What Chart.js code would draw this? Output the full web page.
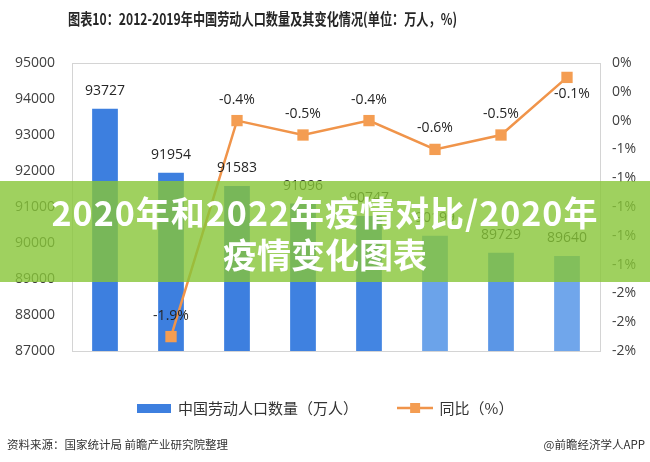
<!DOCTYPE html>
<html><head><meta charset="utf-8">
<script src="https://cdn.jsdelivr.net/npm/chart.js@4/dist/chart.umd.min.js"></script>
<style>
body{margin:0;width:650px;height:462px;position:relative;background:#fff;overflow:hidden;font-family:"Noto Sans CJK SC",sans-serif}
#c{position:absolute;left:0;top:0}
#title{position:absolute;left:68px;top:6px;font-weight:bold;font-size:16px;line-height:24px;color:#262626;white-space:nowrap;transform:scaleX(0.76);transform-origin:left top}
#banner{position:absolute;left:0;top:181px;width:650px;height:101px;background:rgba(135,198,55,0.8);color:#fff;font-weight:bold;font-size:34px;line-height:42px;text-align:center;padding-top:10px;box-sizing:border-box;white-space:nowrap}
#banner .l1{letter-spacing:1px}
#src{position:absolute;left:7px;top:435px;font-size:11.5px;line-height:18px;color:#333}
#app{position:absolute;right:5px;top:435px;font-size:11.5px;line-height:18px;color:#333}
</style></head>
<body>
<canvas id="c" width="650" height="462"></canvas>
<div id="title">图表10：2012-2019年中国劳动人口数量及其变化情况(单位：万人，%)</div>
<div id="banner"><span class="l1">2020年和2022年疫情对比/2020年</span><br>疫情变化图表</div>
<div id="src">资料来源：国家统计局 前瞻产业研究院整理</div>
<div id="app">@前瞻经济学人APP</div>
<script>
const categories = ['2012','2013','2014','2015','2016','2017','2018','2019'];
const laborForce = [93727, 91954, 91583, 91096, 90747, 90199, 89729, 89640];
const yoyChange = [null, -1.9, -0.4, -0.5, -0.4, -0.6, -0.5, -0.1];
const seriesNames = ['中国劳动人口数量（万人）', '同比（%）'];
const leftAxis = {min: 87000, max: 95000, step: 1000};
const rightAxis = {min: -2, max: 0, step: 0.2};

const barColors = ['#3d7fdf','#3d7fdf','#3d7fdf','#3f81e0','#4385e2','#6ba3ea','#5b96e6','#70a6eb'];
const lineColor = '#f0944a';
const pointColor = '#f49d52';

function makeBarIcon(){
  const cv = document.createElement('canvas'); cv.width = 34; cv.height = 9;
  const g = cv.getContext('2d'); g.fillStyle = '#3d7fdf'; g.fillRect(0,0,34,9); return cv;
}
function makeLineIcon(){
  const cv = document.createElement('canvas'); cv.width = 36; cv.height = 12;
  const g = cv.getContext('2d');
  g.strokeStyle = lineColor; g.lineWidth = 2.5; g.beginPath(); g.moveTo(0,6); g.lineTo(36,6); g.stroke();
  g.fillStyle = pointColor; g.fillRect(13,1,10,10); return cv;
}
const legendIcons = [makeBarIcon(), makeLineIcon()];

const boxPlugin = {
  id: 'box',
  beforeDatasetsDraw(chart){
    const {ctx, chartArea:a} = chart;
    ctx.save(); ctx.strokeStyle = '#d4d4d4'; ctx.lineWidth = 1;
    ctx.strokeRect(Math.round(a.left)+0.5, Math.round(a.top)+0.5, Math.round(a.right-a.left), Math.round(a.bottom-a.top));
    ctx.restore();
  }
};
const labelPlugin = {
  id: 'vlabels',
  afterDatasetsDraw(chart){
    const {ctx, chartArea:a} = chart;
    ctx.save();
    ctx.font = '14px "Open Sans", "Liberation Sans", sans-serif';
    ctx.fillStyle = '#262626'; ctx.textAlign = 'center'; ctx.textBaseline = 'middle';
    chart.getDatasetMeta(0).data.forEach((el,i)=>{
      ctx.fillText(String(laborForce[i]), el.x, el.y - 18);
    });
    chart.getDatasetMeta(1).data.forEach((el,i)=>{
      const v = yoyChange[i]; if (v === null) return;
      let y = el.y - 21, x = el.x;
      if (y < a.top + 8) { y = el.y + 17; x = el.x + 5; }
      ctx.fillText(v.toFixed(1) + '%', x, y);
    });
    ctx.restore();
  }
};

new Chart(document.getElementById('c'), {
  type: 'bar',
  data: {
    labels: categories,
    datasets: [
      {type:'bar', label: seriesNames[0], data: laborForce, backgroundColor: barColors, yAxisID:'y', order:2,
       categoryPercentage:1, barPercentage:0.39},
      {type:'line', label: seriesNames[1], data: yoyChange, yAxisID:'y1', order:1,
       borderColor: lineColor, borderWidth: 2.5, pointStyle:'rect', pointRadius: 8, pointHoverRadius: 8,
       pointBackgroundColor: pointColor, pointBorderColor: pointColor, pointBorderWidth: 0, tension: 0, spanGaps:false}
    ]
  },
  options: {
    responsive:false, animation:false,
    layout:{padding:{top:63,left:0,right:0,bottom:36.5}},
    plugins:{
      tooltip:{enabled:false},
      title:{display:false},
      legend:{
        position:'bottom',
        labels:{
          usePointStyle:true, pointStyleWidth:34, padding:40,
          font:{size:15, family:'"Noto Sans CJK SC", sans-serif'}, color:'#333',
          generateLabels: chart => chart.data.datasets.map((ds,i)=>({
            text: ds.label, pointStyle: legendIcons[i], fillStyle:'rgba(0,0,0,0)', strokeStyle:'rgba(0,0,0,0)',
            lineWidth:0, hidden:false, datasetIndex:i, fontColor:'#333'
          }))
        }
      }
    },
    scales:{
      x:{
        grid:{display:false, drawTicks:false}, border:{display:false},
        ticks:{font:{size:14, family:'"Open Sans", sans-serif'}, color:'#333', padding:12},
        afterFit: s => { s.height = 9.5; }
      },
      y:{
        position:'left', min:leftAxis.min, max:leftAxis.max,
        grid:{display:false, drawTicks:false}, border:{display:false},
        ticks:{stepSize:leftAxis.step, font:{size:14, family:'"Open Sans", sans-serif'}, color:'#404040', padding:17,
          callback: v => String(v)},
        afterFit: s => { s.width = 72; }
      },
      y1:{
        position:'right', min:rightAxis.min, max:rightAxis.max,
        grid:{display:false, drawTicks:false}, border:{display:false},
        ticks:{stepSize:rightAxis.step, font:{size:14, family:'"Open Sans", sans-serif'}, color:'#404040', padding:12,
          callback: v => { const r = Math.round(v); return (r === 0 ? 0 : r) + '%'; }},
        afterFit: s => { s.width = 50; }
      }
    }
  },
  plugins:[boxPlugin, labelPlugin]
});
</script>
</body></html>
